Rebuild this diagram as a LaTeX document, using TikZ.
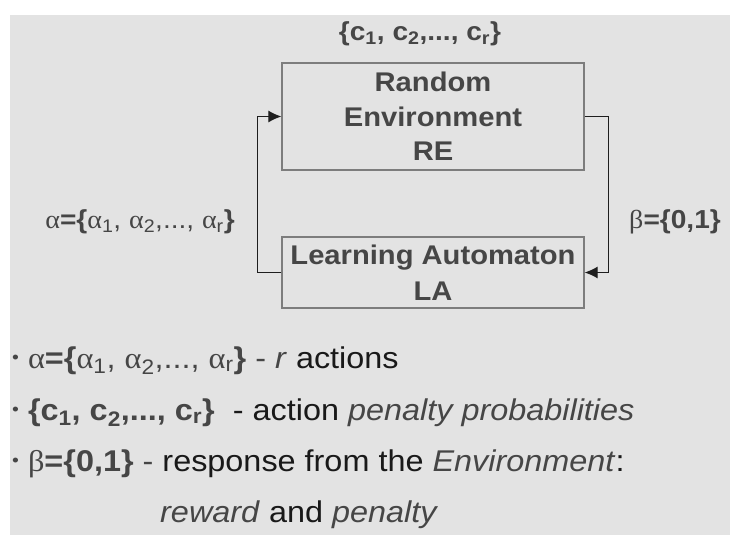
\documentclass[tikz,border=0pt]{standalone}
\usepackage{fontspec}
\setmainfont{Liberation Sans}[FakeStretch=1.08]
\newfontfamily\grk{Liberation Serif}[FakeStretch=1.08]
\usepackage{tikz}
\usetikzlibrary{arrows.meta}

\definecolor{bgColor}{RGB}{227,227,227}
\definecolor{boxColor}{RGB}{125,125,125}
\definecolor{lineColor}{RGB}{30,30,30}
\definecolor{greyText}{RGB}{70,70,70}
\definecolor{darkText}{RGB}{25,25,25}

\newcommand{\al}{{\grk α}}
\newcommand{\be}{{\grk β}}
\newcommand{\dotmark}{\raisebox{5pt}{\fontsize{18}{18}\selectfont •}}

\tikzset{
  block/.style={draw=boxColor,line width=1.3pt,text=greyText,align=center,
    minimum width=302pt,inner sep=0pt,
    font=\fontsize{27}{34.5}\selectfont\bfseries},
  flow/.style={draw=lineColor,line width=1.1pt,-{Latex[length=13pt,width=12pt]}},
  tag/.style={text=greyText,inner sep=0pt,font=\fontsize{26}{30}\selectfont},
  item/.style={anchor=base west,inner sep=0pt,text=darkText,
    font=\fontsize{30}{34}\selectfont}
}

\begin{document}
\begin{tikzpicture}[x=1pt,y=-1pt]
\path[use as bounding box] (0,0) rectangle (730,535);
\fill[bgColor] (10,15) rectangle (730,535);

% the loop
\node[block,minimum height=107pt] (re) at (433,116.5) {Random\\Environment\\RE};
\node[block,minimum height=71pt,font=\fontsize{27}{36}\selectfont\bfseries] (la) at (433,272.5) {Learning Automaton\\LA};

\draw[flow] (la.west) -- ++(-24,0) |- (re.west);
\draw[flow] (re.east) -- ++(24,0) |- (la.east);

% labels
\node[tag] (cset) at (420,34) {\bfseries\{c\textsubscript{1}, c\textsubscript{2},..., c\textsubscript{r}\}};
\node[tag] (aset) at (140,222) {\al\bfseries=\{\mdseries\al\textsubscript{1}, \al\textsubscript{2},..., \al\textsubscript{r}\bfseries\}};
\node[tag] (bset) at (675,222) {\be\bfseries=\{0,1\}};

% bullets
\node[item] (l1) at (12,368) {\textcolor{greyText}{\dotmark\ \al\textbf{=\{}\al\textsubscript{1}, \al\textsubscript{2},..., \al\textsubscript{r}\textbf{\}} - \textit{r}} actions};
\node[item] (l2) at (12,420) {\textcolor{greyText}{\dotmark\ \textbf{\{c\textsubscript{1}, c\textsubscript{2},..., c\textsubscript{r}\}}}\ \ - action \textcolor{greyText}{\textit{penalty probabilities}}};
\node[item] (l3) at (12,471) {\textcolor{greyText}{\dotmark\ \be\textbf{=\{0,1\}} -} response from the \textcolor{greyText}{\textit{Environment}}:};
\node[item] (l4) at (160,522) {\textcolor{greyText}{\textit{reward}} and \textcolor{greyText}{\textit{penalty}}};
\end{tikzpicture}
\end{document}
